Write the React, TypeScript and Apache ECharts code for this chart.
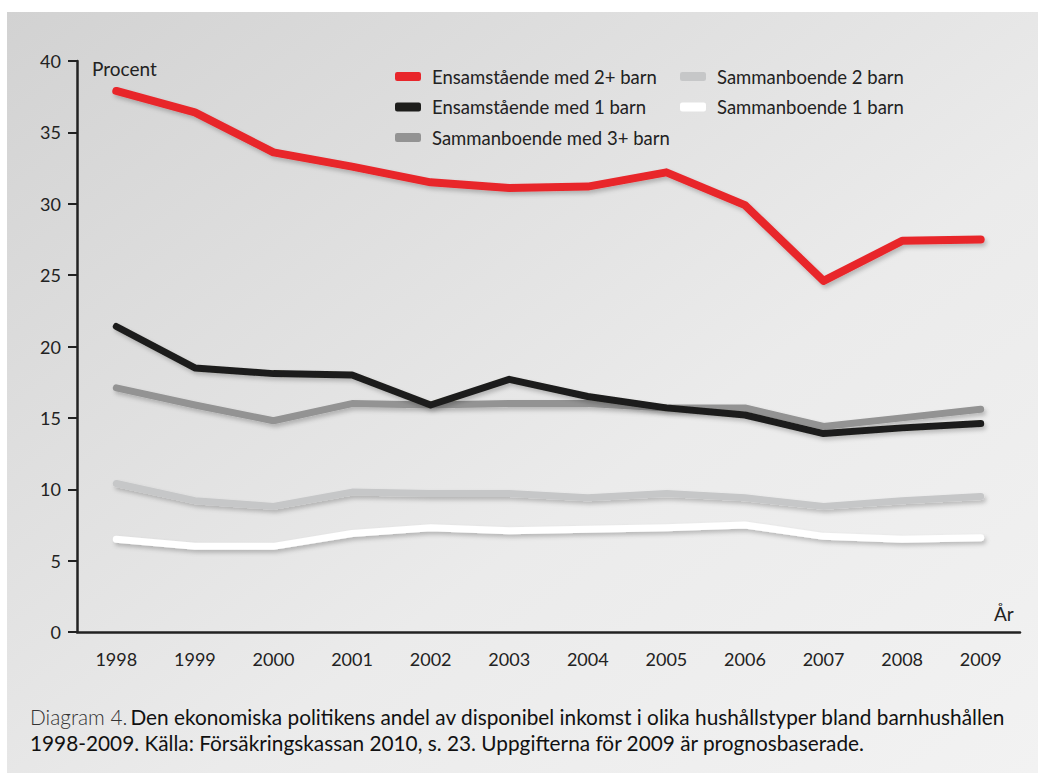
import React, { useEffect, useRef } from "react";
import * as echarts from "echarts";

const years = ["1998", "1999", "2000", "2001", "2002", "2003", "2004", "2005", "2006", "2007", "2008", "2009"];
const ensam2 = [37.9, 36.4, 33.6, 32.6, 31.5, 31.1, 31.2, 32.2, 29.9, 24.6, 27.4, 27.5];
const ensam1 = [21.4, 18.5, 18.1, 18.0, 15.9, 17.7, 16.5, 15.7, 15.2, 13.9, 14.3, 14.6];
const samm3 = [17.1, 15.9, 14.8, 16.0, 15.9, 16.0, 16.0, 15.7, 15.7, 14.4, 15.0, 15.6];
const samm2 = [10.4, 9.2, 8.8, 9.8, 9.7, 9.7, 9.4, 9.7, 9.4, 8.8, 9.2, 9.5];
const samm1 = [6.5, 6.0, 6.0, 6.9, 7.3, 7.1, 7.2, 7.3, 7.5, 6.7, 6.5, 6.6];

const seriesNames = [
  "Ensamstående med 2+ barn",
  "Ensamstående med 1 barn",
  "Sammanboende med 3+ barn",
  "Sammanboende 2 barn",
  "Sammanboende 1 barn",
];
const seriesData = [ensam2, ensam1, samm3, samm2, samm1];
const seriesColors = ["#e8262b", "#1d1d1b", "#939393", "#c6c7c8", "#ffffff"];
const seriesWidths = [8, 7, 7, 7, 7];

const FONT = "Lato, 'Open Sans', sans-serif";

export default function App() {
  const ref = useRef<HTMLDivElement>(null);
  useEffect(() => {
    if (!ref.current) return;
    const chart = echarts.init(ref.current, undefined, { renderer: "svg" });
    const legendCommon = {
      top: 62,
      orient: "vertical",
      itemWidth: 26,
      itemHeight: 9,
      itemGap: 11.5,
      icon: "roundRect",
      textStyle: { fontSize: 18.5, color: "#222", fontFamily: FONT, padding: [0, 0, 0, 6] },
    };
    chart.setOption({
      animation: false,
      textStyle: { fontFamily: FONT },
      grid: { left: 77, right: 18, top: 61, bottom: 141 },
      legend: [
        { ...legendCommon, left: 390, data: seriesNames.slice(0, 3) },
        { ...legendCommon, left: 675, data: seriesNames.slice(3) },
      ],
      xAxis: {
        type: "category",
        data: years,
        boundaryGap: true,
        axisLine: { lineStyle: { color: "#222", width: 2.5 } },
        axisTick: { alignWithLabel: true, length: 9, lineStyle: { color: "#222", width: 2 } },
        axisLabel: { fontSize: 18, color: "#222", margin: 18, fontFamily: FONT },
      },
      yAxis: {
        type: "value",
        min: 0,
        max: 40,
        interval: 5,
        splitLine: { show: false },
        axisLine: { show: true, lineStyle: { color: "#222", width: 2.5 } },
        axisTick: { show: true, length: 9, lineStyle: { color: "#222", width: 2 } },
        axisLabel: { fontSize: 18, color: "#222", margin: 16, fontFamily: FONT },
      },
      graphic: [
        {
          type: "rect",
          z: -10,
          silent: true,
          shape: { x: 7, y: 12, width: 1031, height: 761 },
          style: {
            fill: {
              type: "linear",
              x: 0,
              y: 0,
              x2: 1,
              y2: 1,
              colorStops: [
                { offset: 0, color: "#d2d2d2" },
                { offset: 0.6, color: "#ebebeb" },
                { offset: 1, color: "#f2f2f2" },
              ],
            },
          },
        },
        {
          type: "text",
          left: 92,
          top: 59,
          style: { text: "Procent", fontSize: 19, fill: "#222", fontFamily: FONT },
        },
        {
          type: "text",
          left: 994,
          top: 604,
          style: { text: "År", fontSize: 19, fill: "#222", fontFamily: FONT },
        },
        {
          type: "text",
          left: 30,
          top: 706,
          style: {
            text:
              "{a|Diagram 4.} {b|Den ekonomiska politikens andel av disponibel inkomst i olika hushållstyper bland barnhushållen}\n{b|1998-2009. Källa: Försäkringskassan 2010, s. 23. Uppgifterna för 2009 är prognosbaserade.}",
            fontFamily: FONT,
            rich: {
              a: { fontSize: 20.8, fill: "#333", fontWeight: 300, fontFamily: FONT, lineHeight: 26 },
              b: { fontSize: 20.8, fill: "#111", fontFamily: FONT, lineHeight: 26 },
            },
          },
        },
      ],
      series: seriesNames.map((name, i) => ({
        name,
        type: "line",
        data: seriesData[i],
        symbol: "none",
        color: seriesColors[i],
        z: 10 - i,
        lineStyle: {
          color: seriesColors[i],
          width: seriesWidths[i],
          cap: "round",
          join: "round",
          shadowColor: "rgba(0,0,0,0.22)",
          shadowBlur: 4,
          shadowOffsetX: 2,
          shadowOffsetY: 3,
        },
      })),
    });
    return () => chart.dispose();
  }, []);
  return <div ref={ref} style={{ position: "absolute", left: 0, top: 0, width: 1038, height: 773 }} />;
}
